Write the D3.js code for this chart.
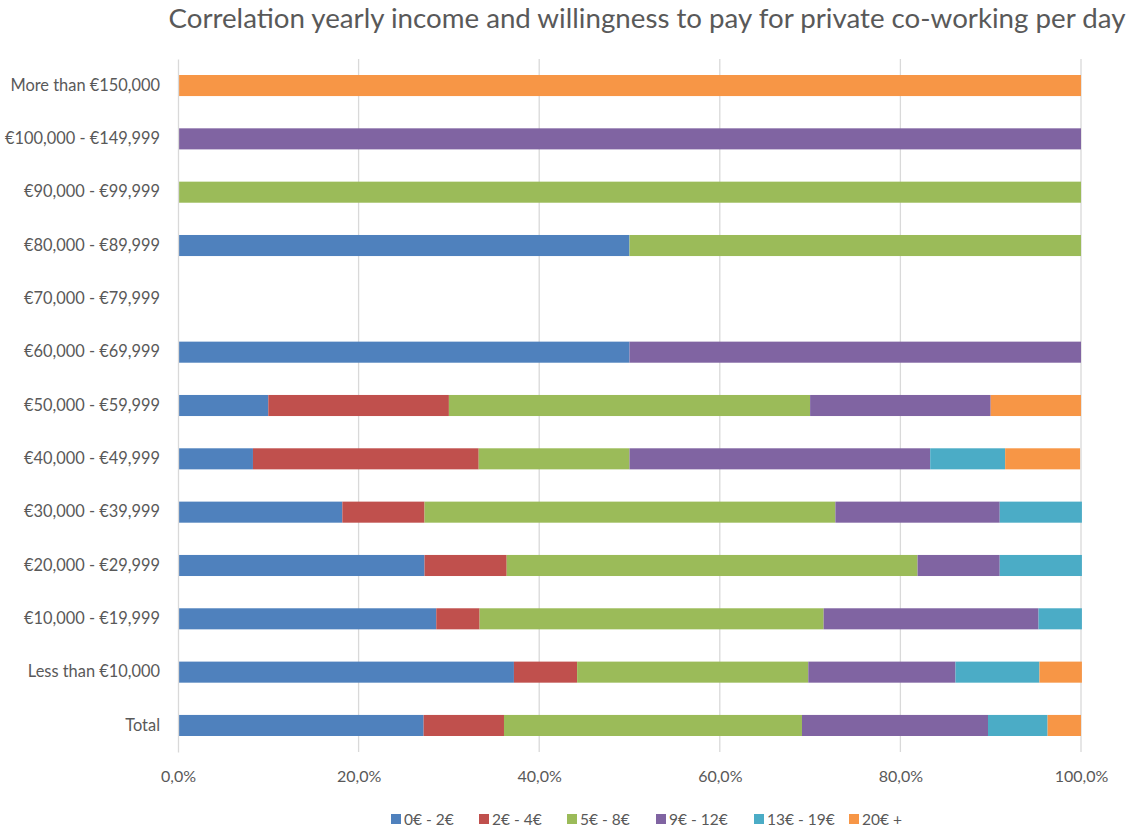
<!DOCTYPE html>
<html>
<head>
<meta charset="utf-8">
<script src="https://cdn.jsdelivr.net/npm/d3@7"></script>
<style>
  html, body { margin: 0; padding: 0; background: #fff; }
  svg { display: block; font-family: Lato, "Open Sans", sans-serif; }
</style>
</head>
<body>
<svg id="chart" width="1134" height="832"></svg>
<script>
// Income brackets, top to bottom
const categories = [
  "More than €150,000", "€100,000 - €149,999", "€90,000 - €99,999",
  "€80,000 - €89,999", "€70,000 - €79,999", "€60,000 - €69,999",
  "€50,000 - €59,999", "€40,000 - €49,999", "€30,000 - €39,999",
  "€20,000 - €29,999", "€10,000 - €19,999", "Less than €10,000", "Total"
];

// Share of respondents (%) per willingness-to-pay band, one array per band
const seriesNames = ["0€ - 2€", "2€ - 4€", "5€ - 8€", "9€ - 12€", "13€ - 19€", "20€ +"];
const pay0to2   = [0, 0, 0, 50, 0, 50, 10, 8.3, 18.2, 27.3, 28.6, 37.2, 27.2];
const pay2to4   = [0, 0, 0, 0, 0, 0, 20, 25.0, 9.1, 9.1, 4.8, 7.0, 8.9];
const pay5to8   = [0, 0, 100, 50, 0, 0, 40, 16.7, 45.5, 45.5, 38.1, 25.6, 33.0];
const pay9to12  = [0, 100, 0, 0, 0, 50, 20, 33.3, 18.2, 9.1, 23.8, 16.3, 20.6];
const pay13to19 = [0, 0, 0, 0, 0, 0, 0, 8.3, 9.1, 9.1, 4.8, 9.3, 6.6];
const pay20plus = [100, 0, 0, 0, 0, 0, 10, 8.3, 0, 0, 0, 4.7, 3.7];

const xTicks = [0, 20, 40, 60, 80, 100];
const colors = ["#4F81BD", "#C0504D", "#9BBB59", "#8064A2", "#4BACC6", "#F79646"];

const seriesValues = [pay0to2, pay2to4, pay5to8, pay9to12, pay13to19, pay20plus];
const rows = categories.map((c, i) => {
  const r = { category: c };
  seriesNames.forEach((s, k) => { r[s] = seriesValues[k][i]; });
  return r;
});

const svg = d3.select("#chart");
const margin = { top: 59, left: 178, right: 53, bottom: 80 };
const W = 1134, H = 832;

const x = d3.scaleLinear().domain([0, 100]).range([margin.left, W - margin.right]);
const y = d3.scaleBand().domain(categories).range([margin.top, H - margin.bottom]).paddingInner(0.605).paddingOuter(0.3);

// Title
svg.append("text")
  .attr("x", 647).attr("y", 28)
  .attr("text-anchor", "middle")
  .attr("fill", "#595959")
  .attr("font-size", 27.7)
  .text("Correlation yearly income and willingness to pay for private co-working per day");

// Vertical gridlines
svg.append("g").selectAll("line")
  .data(xTicks.slice(1))
  .join("line")
  .attr("x1", d => x(d)).attr("x2", d => x(d))
  .attr("y1", margin.top).attr("y2", H - margin.bottom)
  .attr("stroke", "#d9d9d9").attr("stroke-width", 1.3);

// Stacked bars
const stack = d3.stack().keys(seriesNames)(rows);
svg.append("g").selectAll("g")
  .data(stack)
  .join("g")
  .attr("fill", (d, i) => colors[i])
  .selectAll("rect")
  .data(d => d)
  .join("rect")
  .attr("x", d => x(d[0]))
  .attr("width", d => Math.max(0, x(d[1]) - x(d[0])))
  .attr("y", d => y(d.data.category))
  .attr("height", y.bandwidth());

// Category axis
const yAxis = svg.append("g")
  .attr("transform", `translate(${margin.left},0)`)
  .call(d3.axisLeft(y).tickSize(0).tickPadding(18));
yAxis.select(".domain").attr("stroke", "#d9d9d9").attr("stroke-width", 1.3);
yAxis.selectAll("text").attr("font-size", 16.4).attr("fill", "#595959")
  .attr("font-family", "Lato, 'Open Sans', sans-serif");

// Value axis labels
const xAxis = svg.append("g")
  .attr("transform", `translate(0,${H - margin.bottom})`)
  .call(d3.axisBottom(x).tickValues(xTicks).tickSize(0).tickPadding(19)
    .tickFormat(d => d.toFixed(1).replace(".", ",") + "%"));
xAxis.select(".domain").remove();
xAxis.selectAll("text").attr("font-size", 16).attr("fill", "#595959")
  .attr("font-family", "Lato, 'Open Sans', sans-serif");

// Legend
const legendX = [391, 479, 567, 656, 754, 849];
const legend = svg.append("g").selectAll("g")
  .data(seriesNames)
  .join("g")
  .attr("transform", (d, i) => `translate(${legendX[i]},819)`);
legend.append("rect")
  .attr("x", 0).attr("y", -5).attr("width", 10).attr("height", 10)
  .attr("fill", (d, i) => colors[i]);
legend.append("text")
  .attr("x", 13).attr("y", 5.5)
  .attr("font-size", 15.5).attr("fill", "#595959")
  .text(d => d);
</script>
</body>
</html>
